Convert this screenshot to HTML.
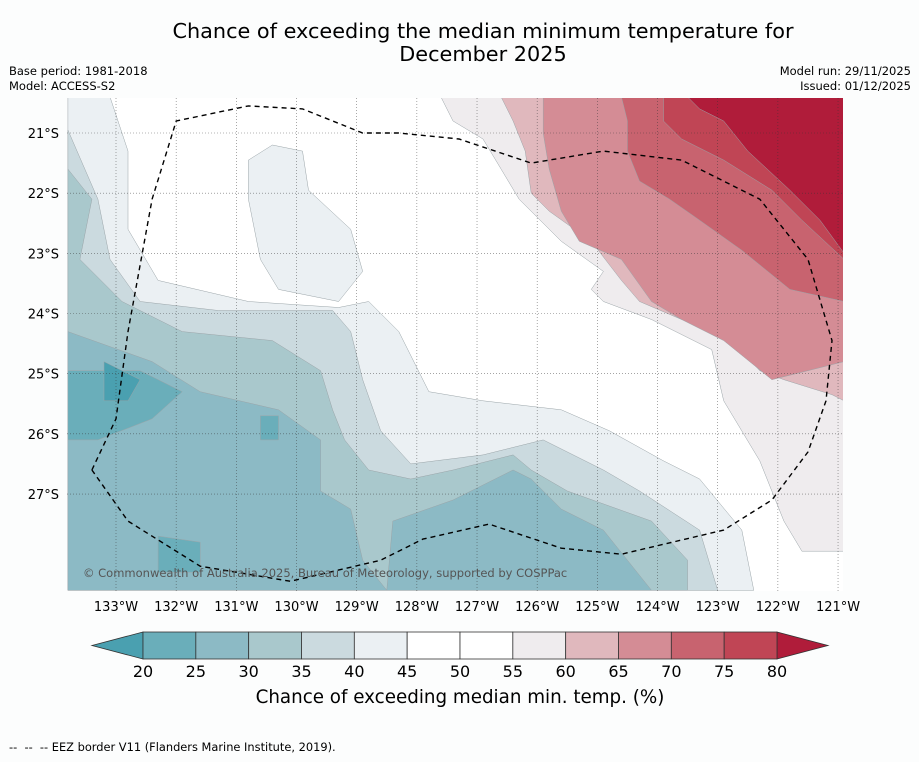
<!DOCTYPE html>
<html><head><meta charset="utf-8">
<style>
html,body{margin:0;padding:0;background:#fcfdfd;}
body{width:919px;height:758px;overflow:hidden;font-family:"DejaVu Sans","Liberation Sans",sans-serif;}
svg text{font-family:"DejaVu Sans","Liberation Sans",sans-serif;}
</style></head>
<body>
<svg id="chart" width="919" height="758" xmlns="http://www.w3.org/2000/svg">
<text x="483" y="38" font-size="20.8" text-anchor="middle" fill="#000">Chance of exceeding the median minimum temperature for</text>
<text x="483" y="61" font-size="20.8" text-anchor="middle" fill="#000">December 2025</text>
<text x="9" y="75" font-size="11.5">Base period: 1981-2018</text>
<text x="9" y="90" font-size="11.5">Model: ACCESS-S2</text>
<text x="911" y="75" font-size="11.5" text-anchor="end">Model run: 29/11/2025</text>
<text x="911" y="90" font-size="11.5" text-anchor="end">Issued: 01/12/2025</text>
<defs><clipPath id="mapclip"><rect x="67" y="98" width="776" height="493"/></clipPath></defs>
<rect x="67" y="98" width="776" height="493" fill="#ffffff"/>
<g id="fills" clip-path="url(#mapclip)"></g>
<g id="grid" clip-path="url(#mapclip)"></g>
<g id="eez" clip-path="url(#mapclip)"></g>
<text x="83" y="577" font-size="11.5" fill="#555">© Commonwealth of Australia 2025, Bureau of Meteorology, supported by COSPPac</text>
<g id="xticks"></g>
<g id="yticks"></g>
<g id="colorbar"></g>
<text x="460" y="703" font-size="18.3" text-anchor="middle">Chance of exceeding median min. temp. (%)</text>
<text x="9" y="751" font-size="11.4">-- &#160;-- &#160;-- EEZ border V11 (Flanders Marine Institute, 2019).</text>
</svg>
<script>
// ---- data ----
const lonTicks = [133,132,131,130,129,128,127,126,125,124,123,122,121];
const latTicks = [21,22,23,24,25,26,27];
const levels = [20,25,30,35,40,45,50,55,60,65,70,75,80];
const levelColors = ['#6aaeba','#8cbac5','#a9c8cc','#cbdadf','#ebf0f3','#ffffff','#ffffff','#efecee','#e0b8bd','#d48c95','#c8636f','#c04555'];
const underColor = '#4aa0b0';
const overColor = '#b01c3a';
// contour regions [lonW, latS]
const c45a = [[133.8,20.4],[133.1,20.4],[132.8,21.3],[132.8,22.6],[132.3,23.45],[130.8,23.8],[129.3,23.9],[128.8,23.8],[128.3,24.3],[127.8,25.3],[126.9,25.45],[125.6,25.6],[124.8,25.95],[123.9,26.45],[123.3,26.75],[122.6,27.6],[122.4,28.6],[133.8,28.6]];
const c45b = [[130.8,21.45],[130.4,21.2],[129.9,21.3],[129.8,21.95],[129.1,22.6],[128.9,23.3],[129.3,23.8],[130.3,23.6],[130.6,23.1],[130.8,22.1]];
const c40 = [[133.8,20.95],[133.3,22.1],[133.1,23.1],[132.6,23.8],[131.3,23.95],[129.4,23.95],[129.1,24.3],[128.9,25.1],[128.6,25.95],[128.1,26.5],[126.9,26.35],[125.9,26.1],[124.9,26.6],[124.3,26.95],[123.3,27.6],[123.0,28.6],[133.8,28.6]];
const c35 = [[133.8,21.6],[133.4,22.1],[133.6,23.1],[132.9,23.8],[131.9,24.3],[130.4,24.45],[129.6,24.95],[129.4,25.6],[129.2,26.1],[128.8,26.6],[128.1,26.75],[127.4,26.6],[126.4,26.35],[126.1,26.6],[125.5,26.95],[124.1,27.45],[123.5,28.1],[123.5,28.6],[133.8,28.6]];
const c30a = [[133.8,24.3],[132.4,24.8],[131.6,25.3],[130.3,25.6],[129.6,26.1],[129.6,26.95],[129.1,27.25],[128.9,28.1],[128.5,28.6],[133.8,28.6]];
const c30b = [[128.5,28.6],[128.4,27.45],[127.4,27.1],[126.4,26.6],[126.1,26.75],[125.6,27.25],[124.9,27.6],[124.5,28.1],[124.1,28.6]];
const c25a = [[133.8,24.95],[132.6,24.95],[131.9,25.3],[132.4,25.75],[133.3,26.1],[133.8,26.1]];
const c25b = [[130.6,25.7],[130.3,25.7],[130.3,26.1],[130.6,26.1]];
const c25c = [[132.3,27.7],[131.6,27.8],[131.6,28.3],[132.3,28.3]];
const c20 = [[133.2,24.8],[132.6,25.1],[132.8,25.45],[133.2,25.45]];
const r55 = [[127.6,20.4],[120.9,20.4],[120.9,27.95],[121.6,27.95],[121.9,27.45],[122.3,26.45],[122.9,25.45],[123.1,24.6],[124.1,24.1],[124.9,23.8],[125.1,23.6],[124.9,23.3],[125.6,22.8],[126.3,22.1],[126.6,21.6],[126.9,21.1],[127.4,20.8]];
const r60 = [[126.6,20.4],[120.9,20.4],[120.9,25.45],[121.1,25.35],[121.9,25.1],[122.3,24.95],[122.9,24.3],[123.6,24.1],[124.3,23.8],[124.6,23.45],[125.1,22.8],[125.8,22.3],[126.1,22.0],[126.2,21.3],[126.4,20.8]];
const r65 = [[125.9,20.4],[120.9,20.4],[120.9,24.8],[122.1,25.1],[122.9,24.45],[123.6,24.1],[124.1,23.8],[124.6,23.1],[125.3,22.8],[125.6,22.3],[125.8,21.6],[125.9,21.0]];
const r70 = [[124.6,20.4],[120.9,20.4],[120.9,23.8],[121.8,23.6],[122.6,22.95],[123.3,22.45],[123.8,22.1],[124.3,21.8],[124.5,21.3],[124.5,20.8]];
const r75 = [[123.9,20.4],[120.9,20.4],[120.9,23.1],[121.6,22.45],[122.1,21.95],[122.9,21.45],[123.6,21.1],[123.9,20.8]];
const r80 = [[123.5,20.4],[120.9,20.4],[120.9,23.0],[121.3,22.45],[121.8,21.95],[122.5,21.3],[122.9,20.8],[123.3,20.6]];
const eezBorder = [[133.4,26.6],[133.0,25.75],[132.8,24.3],[132.4,22.1],[132.0,20.8],[130.8,20.55],[129.9,20.6],[128.9,21.0],[128.3,21.0],[127.3,21.1],[126.1,21.5],[124.9,21.3],[123.6,21.45],[122.3,22.1],[121.5,23.1],[121.1,24.45],[121.2,25.45],[121.5,26.3],[122.1,27.1],[122.9,27.6],[124.6,28.0],[125.6,27.9],[126.8,27.5],[127.9,27.75],[128.6,28.1],[130.1,28.45],[131.6,28.2],[132.8,27.45],[133.4,26.6]];

// ---- axes ----
const DEG = 60.17;
function xOf(lonW){ return 116 + (133 - lonW) * DEG; }
function yOf(latS){ return 133 + (latS - 21) * DEG; }
const cbX0 = 143, cbX1 = 777, cbY0 = 632, cbY1 = 659;
function cbX(v){ return cbX0 + (v - levels[0]) / (levels[levels.length-1] - levels[0]) * (cbX1 - cbX0); }

const NS = 'http://www.w3.org/2000/svg';
function mk(tag, attrs, parent){ const e = document.createElementNS(NS, tag); for (const k in attrs) e.setAttribute(k, attrs[k]); parent.appendChild(e); return e; }
function pts(arr){ return arr.map(p => xOf(p[0]).toFixed(1) + ',' + yOf(p[1]).toFixed(1)).join(' '); }

const fills = document.getElementById('fills');
const regions = [
  [c45a,4,'region-40-45-west'],[c45b,4,'region-40-45-blob'],[c40,3,'region-35-40'],[c35,2,'region-30-35'],
  [c30a,1,'region-25-30-west'],[c30b,1,'region-25-30-south'],[c25a,0,'region-20-25-west'],[c25b,0,'region-20-25-spot'],[c25c,0,'region-20-25-south'],
  [c20,-1,'region-below-20'],
  [r55,7,'region-55-60'],[r60,8,'region-60-65'],[r65,9,'region-65-70'],[r70,10,'region-70-75'],[r75,11,'region-75-80'],[r80,12,'region-above-80']
];
regions.forEach(r => {
  const col = r[1] < 0 ? underColor : (r[1] >= levelColors.length ? overColor : levelColors[r[1]]);
  const el = mk('polygon', {points: pts(r[0]), fill: col, stroke: '#9aa4a8', 'stroke-width': '0.5', 'stroke-linejoin': 'round'}, fills);
  
  
});

const grid = document.getElementById('grid');
const xt = document.getElementById('xticks');
lonTicks.forEach(l => {
  const x = xOf(l);
  const ln = mk('line', {x1: x, x2: x, y1: 98, y2: 591, stroke: '#333', 'stroke-width': '0.6', 'stroke-dasharray': '1,2', opacity: '0.7'}, grid);
  
  
  const t = mk('text', {x: x, y: 611, 'font-size': '13', 'text-anchor': 'middle'}, xt);
  t.textContent = l + '°W';
  
  
});
const yt = document.getElementById('yticks');
latTicks.forEach(l => {
  const y = yOf(l);
  const ln = mk('line', {x1: 67, x2: 843, y1: y, y2: y, stroke: '#333', 'stroke-width': '0.6', 'stroke-dasharray': '1,2', opacity: '0.7'}, grid);
  
  
  const t = mk('text', {x: 59, y: y + 5, 'font-size': '13', 'text-anchor': 'end'}, yt);
  t.textContent = l + '°S';
  
  
});

const eez = mk('polyline', {points: pts(eezBorder), fill: 'none', stroke: '#000', 'stroke-width': '1.4', 'stroke-dasharray': '5,4'}, document.getElementById('eez'));



// colorbar
const cb = document.getElementById('colorbar');
const under = mk('polygon', {points: `${cbX0},${cbY0} ${cbX0},${cbY1} 92,${(cbY0+cbY1)/2}`, fill: underColor, stroke: '#333', 'stroke-width': '0.8'}, cb);


const over = mk('polygon', {points: `${cbX1},${cbY0} ${cbX1},${cbY1} 828,${(cbY0+cbY1)/2}`, fill: overColor, stroke: '#333', 'stroke-width': '0.8'}, cb);


for (let i = 0; i < levelColors.length; i++) {
  const x0 = cbX(levels[i]), x1 = cbX(levels[i+1]);
  const r = mk('rect', {x: x0, y: cbY0, width: x1 - x0, height: cbY1 - cbY0, fill: levelColors[i], stroke: '#333', 'stroke-width': '0.8'}, cb);
  
  
}
levels.forEach(v => {
  const t = mk('text', {x: cbX(v), y: 677, 'font-size': '16', 'text-anchor': 'middle'}, cb);
  t.textContent = v;
  
  
});
</script>
</body></html>
